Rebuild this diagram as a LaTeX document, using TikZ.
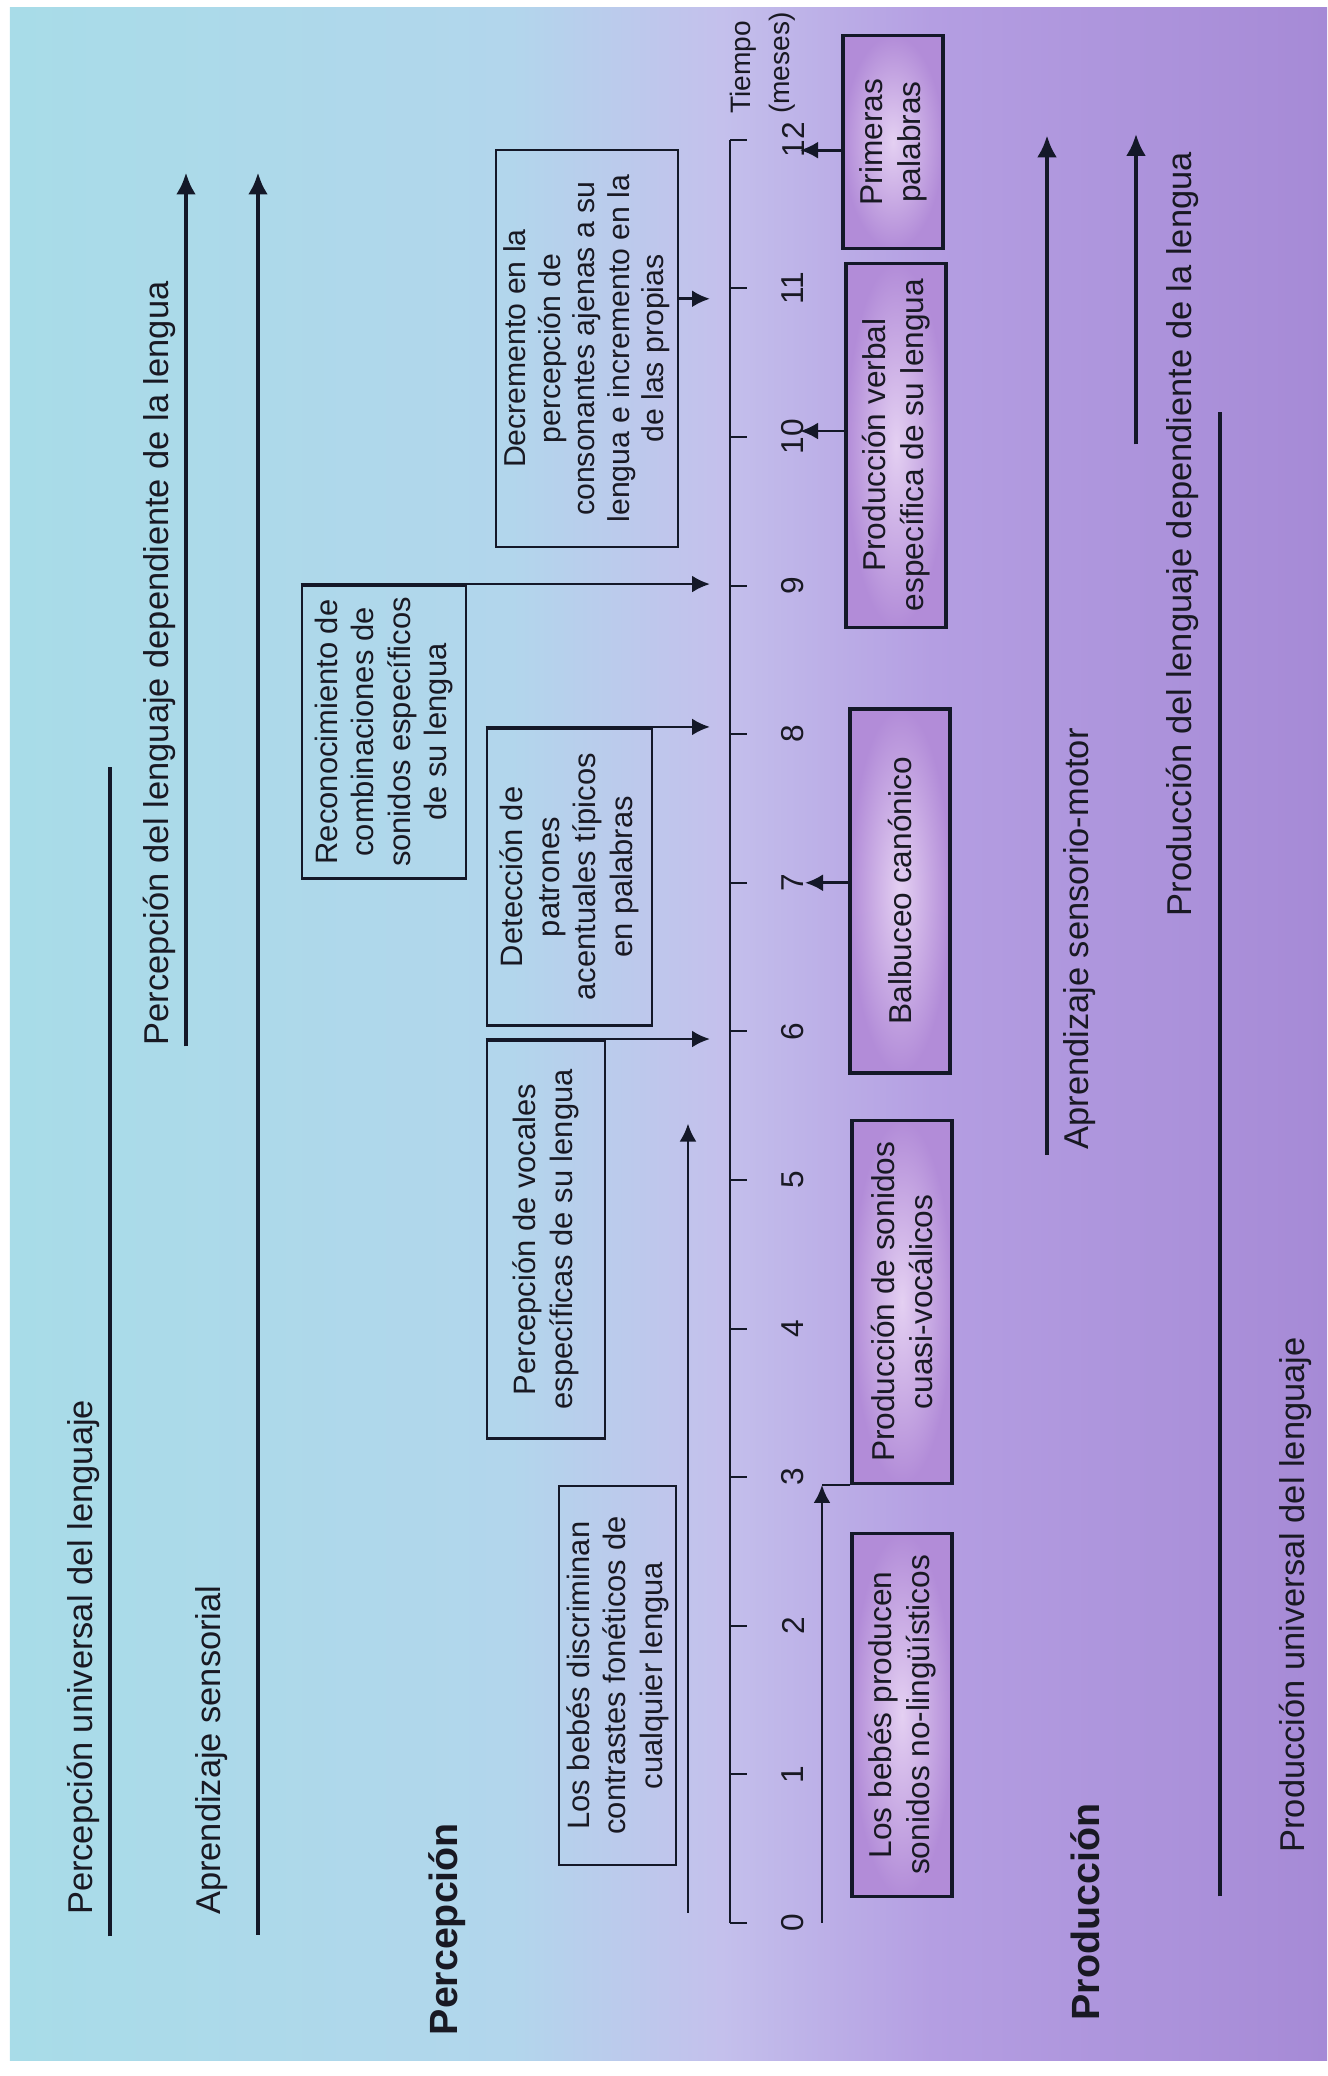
\documentclass[tikz,border=0pt]{standalone}
\usepackage{fontspec}
\setmainfont{Liberation Sans}
\usetikzlibrary{arrows.meta}

\definecolor{cyanbg}{RGB}{168,220,232}
\definecolor{cyanmid}{RGB}{178,214,236}
\definecolor{lavbg}{RGB}{196,192,236}
\definecolor{purpmid}{RGB}{180,158,226}
\definecolor{purpbg}{RGB}{166,138,214}
\definecolor{prodedge}{RGB}{178,140,216}
\definecolor{prodin}{RGB}{228,208,242}
\definecolor{linecol}{RGB}{20,24,40}
\definecolor{textcol}{RGB}{25,25,35}

\pgfdeclarehorizontalshading{fondo}{100bp}{color(0bp)=(cyanbg); color(25bp)=(cyanbg); color(44bp)=(cyanmid); color(52bp)=(lavbg); color(60bp)=(purpmid); color(75bp)=(purpbg); color(100bp)=(purpbg)}

\tikzset{
  percbox/.style={draw=linecol, line width=0.8pt, align=center, text=textcol,
    font=\fontsize{8.8}{10.4}\selectfont, inner sep=0pt},
  prodbox/.style={draw=linecol, line width=0.9pt, inner color=prodin, outer color=prodedge,
    align=center, text=textcol, font=\fontsize{9}{10.8}\selectfont, inner sep=0pt,
    minimum height=1cm},
  hito/.style={draw=linecol, line width=0.8pt, -{Latex[length=1.8mm,width=1.7mm]}},
  etapa/.style={draw=linecol, line width=1.4pt},
  flecha/.style={etapa, -{Latex[length=2.2mm,width=2mm]}},
  etiqueta/.style={font=\fontsize{9.8}{12}\selectfont, text=textcol, anchor=west, inner sep=0pt},
  titulo/.style={font=\fontsize{11.2}{14}\selectfont\bfseries, text=textcol, anchor=west, inner sep=0pt},
  mes/.style={font=\fontsize{9}{11}\selectfont, text=textcol, inner sep=0pt}
}

\begin{document}
\begin{tikzpicture}[rotate=90, transform shape, x=1.486cm, y=1cm]
\useasboundingbox (-1.0296,-5.97) rectangle (12.9408,7.30);
% fondo
\shade[shading=fondo] (-0.922,-5.97) rectangle (12.887,7.20);

% eje del tiempo
\draw[linecol, line width=0.6pt] (0,0) -- (12,0);
\foreach \m in {0,...,12} {
  \coordinate (t\m) at (\m,0);
  \draw[linecol, line width=0.6pt] (t\m) -- ++(0,-0.17);
  \node[mes] (n\m) at (\m,-0.63) {\m};
}
\node[font=\fontsize{8}{11}\selectfont, text=textcol, align=left, anchor=west, inner sep=0pt]
  (tiempo) at (12.17,-0.33) {Tiempo\\(meses)};

% percepcion
\node[titulo] (perc) at (-0.76,2.83) {Percepción};
\node[etiqueta] (pu) at (0.05,6.47) {Percepción universal del lenguaje};
\coordinate (pu0) at (-0.09,6.20);
\coordinate (pu1) at (7.78,6.20);
\draw[etapa] (pu0) -- (pu1);
\node[etiqueta] (pd) at (5.90,5.71) {Percepción del lenguaje dependiente de la lengua};
\coordinate (pd0) at (5.90,5.44);
\coordinate (pd1) at (11.78,5.44);
\draw[flecha] (pd0) -- (pd1);
\node[etiqueta] (as) at (0.05,5.18) {Aprendizaje sensorial};
\coordinate (as0) at (-0.08,4.72);
\coordinate (as1) at (11.78,4.72);
\draw[flecha] (as0) -- (as1);

\node[percbox, minimum width=3.79cm, minimum height=1.17cm] (b1) at (1.665,1.125)
  {Los bebés discriminan\\contrastes fonéticos de\\cualquier lengua};
\node[percbox, minimum width=3.98cm, minimum height=1.18cm] (b2) at (4.60,1.84)
  {Percepción de vocales\\específicas de su lengua};
\node[percbox, minimum width=2.97cm, minimum height=1.65cm] (b3) at (7.04,1.605)
  {Detección de\\patrones\\acentuales típicos\\en palabras};
\node[percbox, minimum width=2.93cm, minimum height=1.64cm] (b4) at (8.015,3.46)
  {Reconocimiento de\\combinaciones de\\sonidos específicos\\de su lengua};
\node[percbox, minimum width=3.97cm, minimum height=1.82cm,
  font=\fontsize{8.6}{9.8}\selectfont] (b5) at (10.595,1.43)
  {Decremento en la\\percepción de\\consonantes ajenas a su\\lengua e incremento en la\\de las propias};

\coordinate (a0) at (0,0.2);
\coordinate (u0) at (0.07,0.42);
\coordinate (u1) at (5.38,0.42);
\draw[hito] (u0) -- (u1);
\draw[hito] (b2.north east) -- (b2.north east |- a0);
\draw[hito] (b3.north east) -- (b3.north east |- a0);
\draw[hito] (b4.north east) -- (b4.north east |- a0);
\coordinate (m11) at (10.93,0.2);
\draw[hito] (b5.south -| m11) -- (m11);

% produccion
\node[titulo] (prod) at (-0.66,-3.55) {Producción};
\node[etiqueta] (asm) at (5.20,-3.50) {Aprendizaje sensorio-motor};
\coordinate (asm0) at (5.17,-3.17);
\coordinate (asm1) at (12.03,-3.17);
\draw[flecha] (asm0) -- (asm1);
\node[etiqueta] (prd) at (6.77,-4.52) {Producción del lenguaje dependiente de la lengua};
\coordinate (prd0) at (9.95,-4.06);
\coordinate (prd1) at (12.04,-4.06);
\draw[flecha] (prd0) -- (prd1);
\node[etiqueta] (pru) at (0.47,-5.65) {Producción universal del lenguaje};
\coordinate (pru0) at (0.18,-4.90);
\coordinate (pru1) at (10.17,-4.90);
\draw[etapa] (pru0) -- (pru1);

\node[prodbox, minimum width=3.63cm] (p1) at (1.40,-1.72)
  {Los bebés producen\\sonidos no-lingüísticos};
\node[prodbox, minimum width=3.63cm] (p2) at (4.18,-1.72)
  {Producción de sonidos\\cuasi-vocálicos};
\node[prodbox, minimum width=3.64cm] (p3) at (6.945,-1.70)
  {Balbuceo canónico};
\node[prodbox, minimum width=3.64cm] (p4) at (9.945,-1.66)
  {Producción verbal\\específica de su lengua};
\node[prodbox, minimum width=2.13cm] (p5) at (11.985,-1.63)
  {Primeras\\palabras};

\coordinate (s0) at (0,-0.92);
\draw[hito] (s0) -- (s0 -| p2.north west);
\draw[linecol, line width=0.8pt] (p2.north west) -- (s0 -| p2.north west);
\coordinate (q7) at (7,-0.75);
\coordinate (q10) at (10.04,-0.70);
\coordinate (q12) at (11.93,-0.70);
\draw[hito] (p3.north -| q7) -- (q7);
\draw[hito] (p4.north -| q10) -- (q10);
\draw[hito] (p5.north -| q12) -- (q12);
\end{tikzpicture}
\end{document}
